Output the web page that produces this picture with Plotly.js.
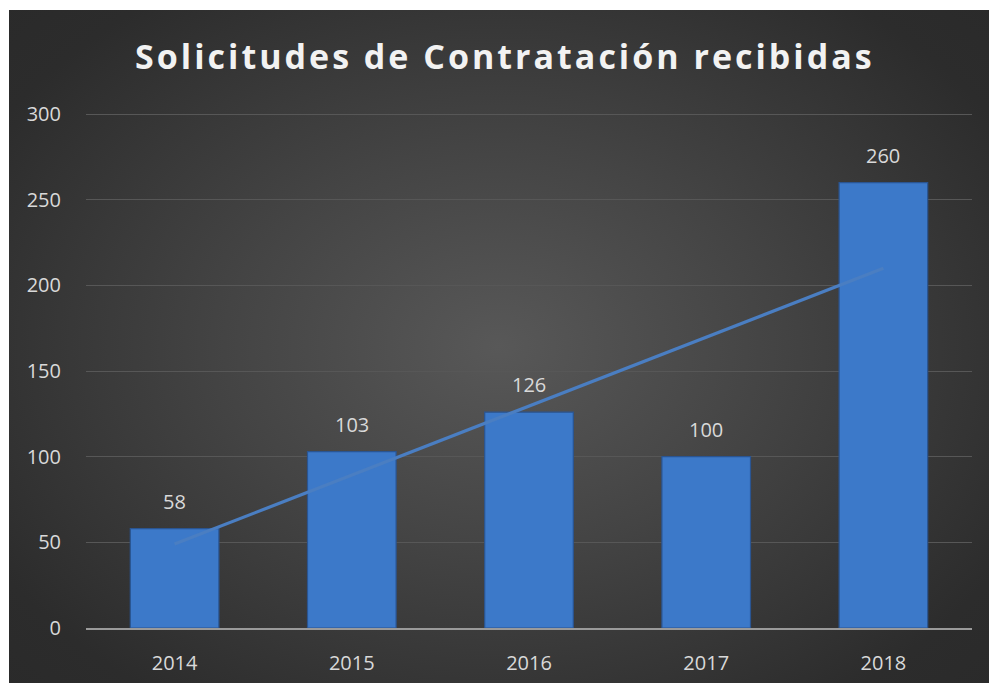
<!DOCTYPE html>
<html>
<head>
<meta charset="utf-8">
<script src="https://cdn.plot.ly/plotly-3.0.1.min.js"></script>
<style>
  html, body { margin: 0; padding: 0; background: #ffffff; }
  #chart {
    position: absolute; left: 9px; top: 10px; width: 980px; height: 673px;
    background: radial-gradient(ellipse 70% 75% at 50% 50%, #585858 0%, #444 40%, #2c2c2c 85%, #2a2a2a 100%);
  }
  #chart .gtitle { letter-spacing: 3px; }
</style>
</head>
<body>
<div id="chart"></div>
<script>
const years = ['2014', '2015', '2016', '2017', '2018'];
const solicitudes = [58, 103, 126, 100, 260];
const trendYears = ['2014', '2018'];
const trendValues = [49, 210];
const yTicks = [0, 50, 100, 150, 200, 250, 300];

const labelFont = { family: 'Open Sans, Noto Sans, sans-serif', size: 20, color: '#d9d9d9' };

const bars = {
  type: 'bar', x: years, y: solicitudes,
  marker: { color: '#3c79c9', line: { color: '#2a5592', width: 1.2 } },
  showlegend: false
};
const trend = {
  type: 'scatter', mode: 'lines', x: trendYears, y: trendValues,
  line: { color: '#4a7ec2', width: 3.2 }, showlegend: false
};

const annotations = years.map((yr, i) => ({
  x: i, y: solicitudes[i], xref: 'x', yref: 'y',
  text: String(solicitudes[i]), showarrow: false,
  yanchor: 'bottom', yshift: 12, font: labelFont
}));

const layout = {
  width: 980, height: 673,
  paper_bgcolor: 'rgba(0,0,0,0)', plot_bgcolor: 'rgba(0,0,0,0)',
  margin: { l: 77, r: 17, t: 103, b: 55 },
  title: {
    text: '<b>Solicitudes de Contratación recibidas</b>',
    font: { family: 'Open Sans, Noto Sans, sans-serif', size: 34, color: '#f2f2f2' },
    x: 0.506, xanchor: 'center', y: 0.93, yanchor: 'middle', yref: 'container'
  },
  bargap: 0.5,
  xaxis: {
    type: 'category', categoryorder: 'array', categoryarray: years,
    range: [-0.5, 4.5], tickfont: labelFont, showgrid: false,
    showline: true, linecolor: '#9a9a9a', linewidth: 2,
    ticks: 'outside', ticklen: 16, tickcolor: 'rgba(0,0,0,0)', fixedrange: true
  },
  yaxis: {
    range: [0, 300.6], tickvals: yTicks, tickfont: labelFont,
    showgrid: true, gridcolor: '#575757', gridwidth: 1,
    zeroline: false, showline: false,
    ticks: 'outside', ticklen: 20, tickcolor: 'rgba(0,0,0,0)', fixedrange: true
  },
  annotations: annotations
};

Plotly.newPlot('chart', [bars, trend], layout, { displayModeBar: false });
</script>
</body>
</html>
